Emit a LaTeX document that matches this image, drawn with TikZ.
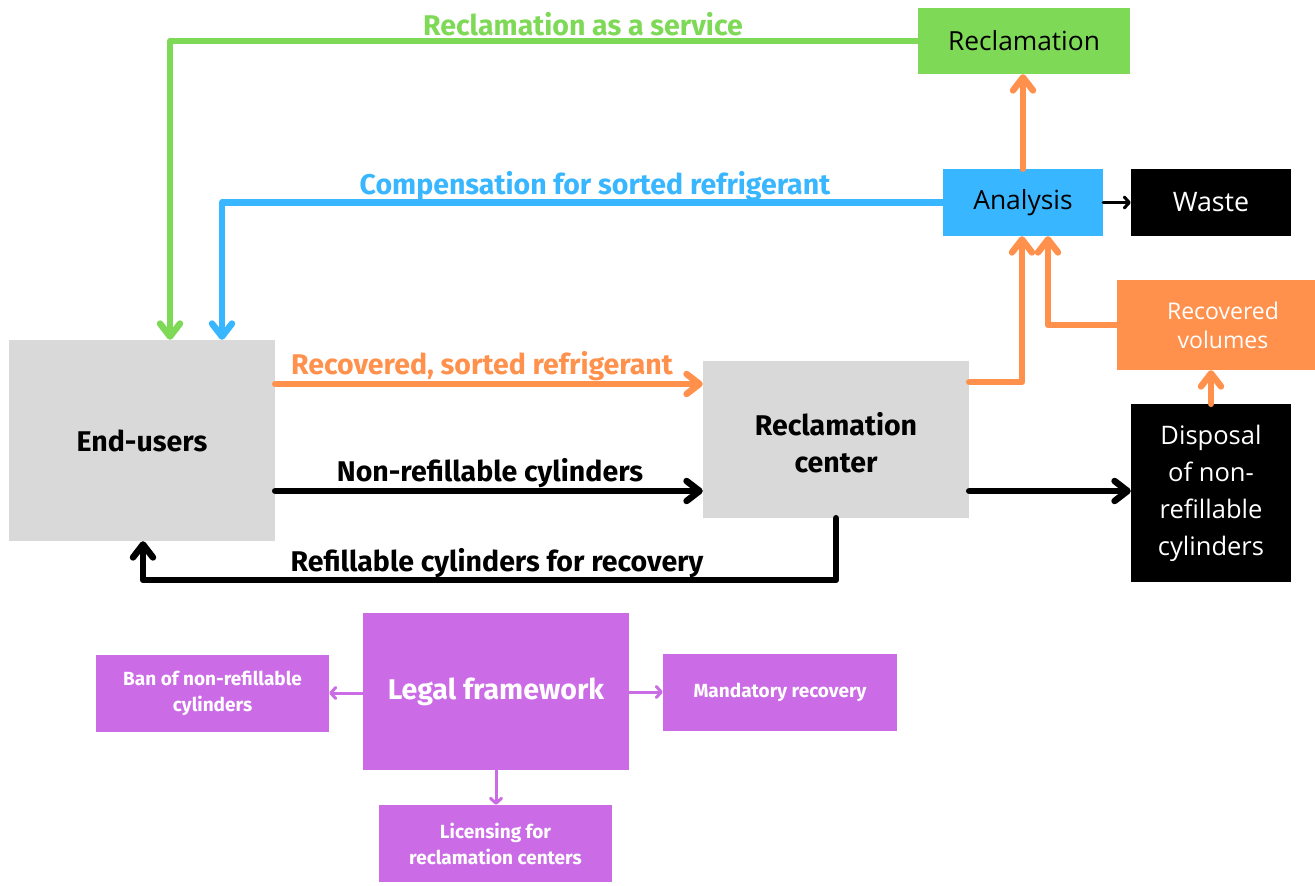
\documentclass[tikz,border=0pt]{standalone}
\usepackage{fontspec}
\setmainfont{Fira Sans}
\newfontfamily\reg{Open Sans}
\usetikzlibrary{arrows.meta}
\definecolor{cgreen}{HTML}{7ED957}
\definecolor{cblue}{HTML}{38B6FF}
\definecolor{corange}{HTML}{FF914D}
\definecolor{cgray}{HTML}{D9D9D9}
\definecolor{cpurple}{HTML}{CB6CE6}
\tikzset{
  box/.style={inner sep=0pt, align=center},
  thick arrow/.style={line width=6.5pt, line cap=round, line join=round,
    -{Straight Barb[length=13pt,width=20pt,round]}},
  thin arrow/.style={line width=3pt, line cap=round, line join=round,
    -{Straight Barb[length=5pt,width=11pt,round]}},
  lab/.style={font=\bfseries\fontsize{28.5}{32}\selectfont, inner sep=0pt},
  small/.style={font=\bfseries\fontsize{19}{26}\selectfont},
}
\begin{document}
\begin{tikzpicture}[x=1pt,y=-1pt]
\useasboundingbox (0,0) rectangle (1315,886);
% nodes
\node[box, fill=cgreen, minimum width=212pt, minimum height=66pt,
  font=\reg\fontsize{26.3}{30}\selectfont] (recl) at (1024,41) {Reclamation};
\node[box, fill=cblue, minimum width=160pt, minimum height=67pt,
  font=\reg\fontsize{26.4}{30}\selectfont] (an) at (1023,202.5) {Analysis};
\node[box, fill=black, text=white, minimum width=160pt, minimum height=67pt,
  font=\reg\fontsize{26.8}{30}\selectfont] (waste) at (1211,202.5) {Waste};
\node[box, fill=corange, text=white, minimum width=198pt, minimum height=90pt,
  font=\reg\fontsize{23}{29}\selectfont] (rv) at (1216,325) {\hspace*{14pt}Recovered\\\hspace*{14pt}volumes};
\node[box, fill=black, text=white, minimum width=160pt, minimum height=178pt,
  font=\reg\fontsize{25.5}{37}\selectfont] (disp) at (1211,493) {Disposal\\of non-\\refillable\\cylinders};
\node[box, fill=cgray, minimum width=266pt, minimum height=201pt,
  font=\bfseries\fontsize{28.5}{30}\selectfont] (eu) at (142,440.5) {End-users};
\node[box, fill=cgray, minimum width=266pt, minimum height=157pt,
  font=\bfseries\fontsize{28.5}{37}\selectfont] (rc) at (836,439.5)
  {\raisebox{-7pt}[\height][\depth]{\begin{tabular}{@{}c@{}}Reclamation\\center\end{tabular}}};
\node[box, fill=cpurple, text=white, minimum width=266pt, minimum height=157pt,
  font=\bfseries\fontsize{28.5}{32}\selectfont] (lf) at (496,691.5) {Legal framework};
\node[box, fill=cpurple, text=white, minimum width=233pt, minimum height=77pt,
  small] (ban) at (212.5,693.5) {Ban of non-refillable\\cylinders};
\node[box, fill=cpurple, text=white, minimum width=234pt, minimum height=77pt,
  small] (mand) at (780,692.5) {Mandatory recovery};
\node[box, fill=cpurple, text=white, minimum width=233pt, minimum height=77pt,
  small] (lic) at (495.5,843.5) {Licensing for\\reclamation centers};
% connectors
\draw[thick arrow, cgreen] (recl.west) -| (eu.north -| 170,0);
\draw[thick arrow, cblue] (an.west) -| (eu.north -| 222,0);
\draw[thick arrow, corange] (eu.east |- 0,384) -- (rc.west |- 0,384);
\draw[thick arrow, black] (eu.east |- 0,491) -- (rc.west |- 0,491);
\draw[thick arrow, black] (rc.south) -- (rc.south |- 0,580) -| (eu.south -| 143,0);
\draw[thick arrow, black] (rc.east |- 0,491) -- (disp.west |- 0,491);
\draw[thick arrow, corange] (rc.east |- 0,382) -| (an.south -| 1022,0);
\draw[thick arrow, corange] (rv.west |- 0,325) -| (an.south -| 1048,0);
\draw[thick arrow, corange] (disp.north) -- (rv.south -| disp.north);
\draw[thick arrow, corange] (an.north) -- (recl.south -| an.north);
\draw[thin arrow, black] (an.east) -- (waste.west);
\draw[thin arrow, cpurple] (lf.west |- 0,693) -- (ban.east |- 0,693);
\draw[thin arrow, cpurple] (lf.east |- 0,692) -- (mand.west |- 0,692);
\draw[thin arrow, cpurple] (lf.south) -- (lic.north -| lf.south);
% labels
\node[lab, text=cgreen] (l1) at (583,24) {Reclamation as a service};
\node[lab, text=cblue] (l2) at (595,186) {Compensation for sorted refrigerant};
\node[lab, text=corange] (l3) at (482,366) {Recovered, sorted refrigerant};
\node[lab, text=black] (l4) at (490,473) {Non-refillable cylinders};
\node[lab, text=black] (l5) at (497,563) {Refillable cylinders for recovery};
\end{tikzpicture}
\end{document}
